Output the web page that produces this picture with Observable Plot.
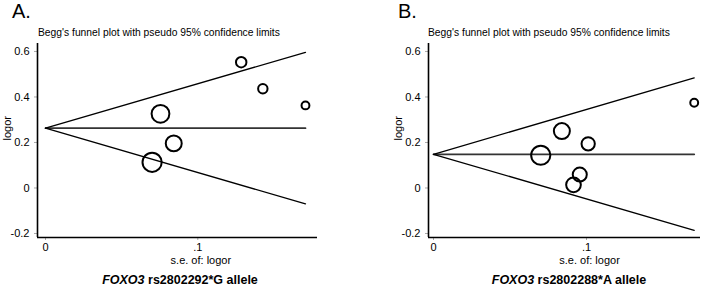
<!DOCTYPE html>
<html><head><meta charset="utf-8">
<script src="https://cdn.jsdelivr.net/npm/d3@7"></script>
<script src="https://cdn.jsdelivr.net/npm/@observablehq/plot@0.6"></script>
<style>
body{margin:0;background:#fff;font-family:"Liberation Sans",Arial,sans-serif;}
#wrap{display:flex;width:704px;height:291px;}
.panel{position:relative;width:352px;height:291px;}
.panel svg{position:absolute;left:0;top:0;}
.letter{position:absolute;top:0px;font-size:20px;color:#000;}
.title{position:absolute;top:27px;font-size:10.3px;color:#000;white-space:nowrap;}
.cap{position:absolute;top:273px;font-size:12.5px;font-weight:bold;white-space:nowrap;transform:translateX(-50%);}
</style></head>
<body><div id="wrap"></div>
<script>
// Panel A: FOXO3 rs2802292*G allele
const seA = [0.1285, 0.1427, 0.1707, 0.0755, 0.0842, 0.070];
const logorA = [0.553, 0.436, 0.363, 0.326, 0.196, 0.113];
const funnelSeA = [0, 0.1707];
const pooledA = [0.263, 0.263];
const upperA = [0.263, 0.596];
const lowerA = [0.263, -0.070];
// Panel B: FOXO3 rs2802288*A allele
const seB = [0.1704, 0.0839, 0.1011, 0.0701, 0.0956, 0.0915];
const logorB = [0.3745, 0.250, 0.194, 0.144, 0.059, 0.014];
const funnelSeB = [0, 0.1704];
const pooledB = [0.148, 0.148];
const upperB = [0.148, 0.484];
const lowerB = [0.148, -0.186];
// axes
const yTicks = [-0.2, 0, 0.2, 0.4, 0.6];
const yTickLabels = ["-0.2", "0", "0.2", "0.4", "0.6"];
const xTicks = [0, 0.1];
const xTickLabels = ["0", ".1"];
const titleText = "Begg's funnel plot with pseudo 95% confidence limits";

function panel(cfg) {
  const pts = cfg.se.map((s, i) => ({se: s, logor: cfg.logor[i], w: 1 / (s * s)}));
  const line = (ys) => cfg.funnelSe.map((s, i) => ({se: s, v: ys[i]}));
  const xd = cfg.xDomain, yd = [-0.2176, 0.635];
  return Plot.plot({
    width: 352, height: 291,
    marginLeft: cfg.ml, marginRight: cfg.mr, marginTop: 43, marginBottom: 54,
    style: {fontFamily: "Liberation Sans, Arial, sans-serif", fontSize: "11px", background: "transparent"},
    x: {domain: xd},
    y: {domain: yd},
    r: {type: "sqrt", domain: [0, 204], range: [0, 9.6]},
    marks: [
      Plot.axisY({ticks: yTicks, tickFormat: d => yTickLabels[yTicks.indexOf(d)], tickSize: 3, tickPadding: 5, stroke: "#aaa", fill: "#000", label: null, fontSize: 11}),
      Plot.axisX({ticks: xTicks, tickFormat: d => xTickLabels[xTicks.indexOf(d)], tickSize: 3, tickPadding: 3, stroke: "#aaa", fill: "#000", label: null, fontSize: 11}),
      Plot.ruleX([xd[0]], {y1: yd[0], y2: yd[1], stroke: "#000", strokeWidth: 1.6}),
      Plot.ruleY([yd[0]], {x1: xd[0], x2: xd[1], stroke: "#000", strokeWidth: 1.6}),
      Plot.line(line(cfg.pooled), {x: "se", y: "v", stroke: "#333", strokeWidth: 1.8}),
      Plot.line(line(cfg.upper), {x: "se", y: "v", stroke: "#000", strokeWidth: 1.3}),
      Plot.line(line(cfg.lower), {x: "se", y: "v", stroke: "#000", strokeWidth: 1.3}),
      Plot.dot(pts, {x: "se", y: "logor", r: "w", stroke: "#000", strokeWidth: 2, fill: "none"}),
      Plot.text(["logor"], {frameAnchor: "left", rotate: -90, dx: -30, fontSize: 11}),
      Plot.text(["s.e. of: logor"], {x: [cfg.xLabelAt], frameAnchor: "bottom", dy: 26, fontSize: 11})
    ]
  });
}

const wrap = document.getElementById("wrap");
const cfgs = [
  {letter: "A.", letterX: 12, titleX: 38, capX: 180, cap: "rs2802292*G allele",
   se: seA, logor: logorA, funnelSe: funnelSeA, pooled: pooledA, upper: upperA, lower: lowerA,
   ml: 37, mr: 35, xDomain: [(37 - 45) / 1523, (317 - 45) / 1523], xLabelAt: 0.102},
  {letter: "B.", letterX: 46, titleX: 76, capX: 217, cap: "rs2802288*A allele",
   se: seB, logor: logorB, funnelSe: funnelSeB, pooled: pooledB, upper: upperB, lower: lowerB,
   ml: 76, mr: 4, xDomain: [(428 - 433) / 1530, (700 - 433) / 1530], xLabelAt: 0.102}
];
for (const c of cfgs) {
  const div = document.createElement("div");
  div.className = "panel";
  div.appendChild(panel(c));
  const L = document.createElement("div"); L.className = "letter"; L.style.left = c.letterX + "px"; L.textContent = c.letter; div.appendChild(L);
  const T = document.createElement("div"); T.className = "title"; T.style.left = c.titleX + "px"; T.textContent = titleText; div.appendChild(T);
  const C = document.createElement("div"); C.className = "cap"; C.style.left = c.capX + "px";
  const i = document.createElement("i"); i.textContent = "FOXO3"; C.appendChild(i); C.appendChild(document.createTextNode(" " + c.cap));
  div.appendChild(C);
  wrap.appendChild(div);
}
</script></body></html>
